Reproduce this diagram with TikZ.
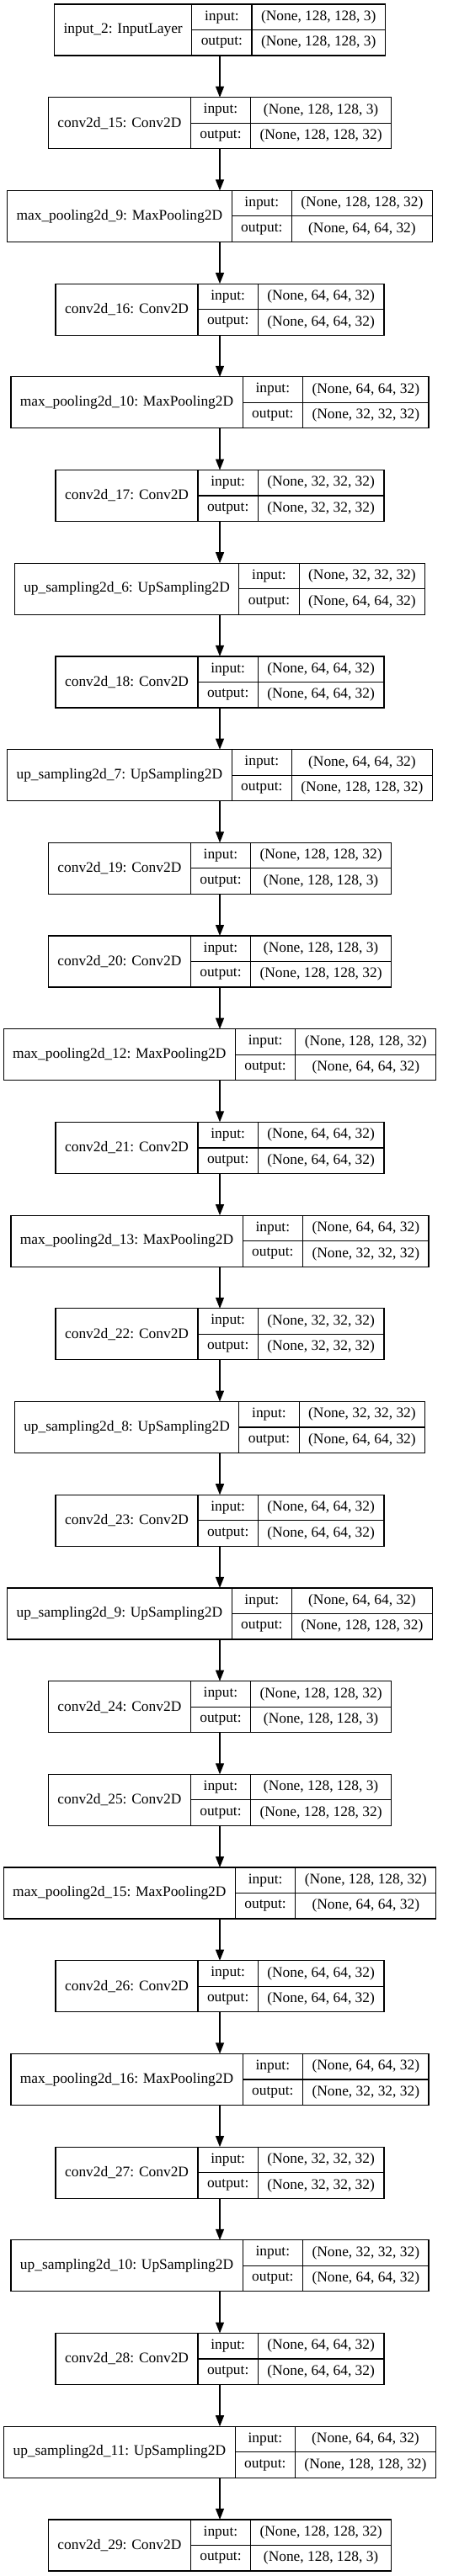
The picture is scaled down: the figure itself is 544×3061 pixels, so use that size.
\documentclass[tikz,border=0pt]{standalone}
\usepackage{fontspec}
\setmainfont{Liberation Serif}
\usetikzlibrary{arrows.meta}

\newcommand\layerfont{\fontsize{17.4}{20}\selectfont}
\newlength\namew
\newlength\valw
\newlength\labw
\newlength\tmpw

% one layer box: row, name, input shape, output shape
\newcommand\layer[4]{%
  \pgfinterruptpicture
    \settowidth\namew{\layerfont #2}\global\namew=\namew
    \settowidth\valw{\layerfont #3}\settowidth\tmpw{\layerfont #4}%
    \ifdim\tmpw>\valw \valw=\tmpw \fi \global\valw=\valw
    \settowidth\labw{\layerfont output:}\global\labw=\labw
  \endpgfinterruptpicture
  \addtolength\namew{22pt}\addtolength\valw{22pt}\addtolength\labw{22pt}%
  \pgfmathsetmacro\boxtop{5+(#1-1)*110.7}%
  \pgfmathsetmacro\boxw{\namew+\labw+\valw}%
  \node[frame, minimum width=\boxw pt] (l#1) at (261, \boxtop+30.5) {};
  \node[field, minimum width=\namew, minimum height=61pt, anchor=north west] (l#1n) at (l#1.north west) {#2};
  \node[field, minimum width=\labw, anchor=north west] (l#1il) at (l#1n.north east) {input:};
  \node[field, minimum width=\valw, anchor=north west] (l#1iv) at (l#1il.north east) {#3};
  \node[field, minimum width=\labw, anchor=north west] (l#1ol) at (l#1il.south west) {output:};
  \node[field, minimum width=\valw, anchor=north west] (l#1ov) at (l#1ol.north east) {#4};
}

\begin{document}
\begin{tikzpicture}[x=1pt, y=-1pt,
  frame/.style={inner sep=0pt, outer sep=0pt, minimum height=61pt},
  field/.style={draw, line width=1.2pt, inner sep=0pt, outer sep=0pt, minimum height=30.5pt, font=\layerfont},
  link/.style={line width=1.2pt, -{Triangle[length=13pt, width=10pt]}}]
\useasboundingbox (0,0) rectangle (544,3061);

\layer{1}{input\_2: InputLayer}{(None, 128, 128, 3)}{(None, 128, 128, 3)}
\layer{2}{conv2d\_15: Conv2D}{(None, 128, 128, 3)}{(None, 128, 128, 32)}
\layer{3}{max\_pooling2d\_9: MaxPooling2D}{(None, 128, 128, 32)}{(None, 64, 64, 32)}
\layer{4}{conv2d\_16: Conv2D}{(None, 64, 64, 32)}{(None, 64, 64, 32)}
\layer{5}{max\_pooling2d\_10: MaxPooling2D}{(None, 64, 64, 32)}{(None, 32, 32, 32)}
\layer{6}{conv2d\_17: Conv2D}{(None, 32, 32, 32)}{(None, 32, 32, 32)}
\layer{7}{up\_sampling2d\_6: UpSampling2D}{(None, 32, 32, 32)}{(None, 64, 64, 32)}
\layer{8}{conv2d\_18: Conv2D}{(None, 64, 64, 32)}{(None, 64, 64, 32)}
\layer{9}{up\_sampling2d\_7: UpSampling2D}{(None, 64, 64, 32)}{(None, 128, 128, 32)}
\layer{10}{conv2d\_19: Conv2D}{(None, 128, 128, 32)}{(None, 128, 128, 3)}
\layer{11}{conv2d\_20: Conv2D}{(None, 128, 128, 3)}{(None, 128, 128, 32)}
\layer{12}{max\_pooling2d\_12: MaxPooling2D}{(None, 128, 128, 32)}{(None, 64, 64, 32)}
\layer{13}{conv2d\_21: Conv2D}{(None, 64, 64, 32)}{(None, 64, 64, 32)}
\layer{14}{max\_pooling2d\_13: MaxPooling2D}{(None, 64, 64, 32)}{(None, 32, 32, 32)}
\layer{15}{conv2d\_22: Conv2D}{(None, 32, 32, 32)}{(None, 32, 32, 32)}
\layer{16}{up\_sampling2d\_8: UpSampling2D}{(None, 32, 32, 32)}{(None, 64, 64, 32)}
\layer{17}{conv2d\_23: Conv2D}{(None, 64, 64, 32)}{(None, 64, 64, 32)}
\layer{18}{up\_sampling2d\_9: UpSampling2D}{(None, 64, 64, 32)}{(None, 128, 128, 32)}
\layer{19}{conv2d\_24: Conv2D}{(None, 128, 128, 32)}{(None, 128, 128, 3)}
\layer{20}{conv2d\_25: Conv2D}{(None, 128, 128, 3)}{(None, 128, 128, 32)}
\layer{21}{max\_pooling2d\_15: MaxPooling2D}{(None, 128, 128, 32)}{(None, 64, 64, 32)}
\layer{22}{conv2d\_26: Conv2D}{(None, 64, 64, 32)}{(None, 64, 64, 32)}
\layer{23}{max\_pooling2d\_16: MaxPooling2D}{(None, 64, 64, 32)}{(None, 32, 32, 32)}
\layer{24}{conv2d\_27: Conv2D}{(None, 32, 32, 32)}{(None, 32, 32, 32)}
\layer{25}{up\_sampling2d\_10: UpSampling2D}{(None, 32, 32, 32)}{(None, 64, 64, 32)}
\layer{26}{conv2d\_28: Conv2D}{(None, 64, 64, 32)}{(None, 64, 64, 32)}
\layer{27}{up\_sampling2d\_11: UpSampling2D}{(None, 64, 64, 32)}{(None, 128, 128, 32)}
\layer{28}{conv2d\_29: Conv2D}{(None, 128, 128, 32)}{(None, 128, 128, 3)}

% arrows between the layers
\foreach \i in {1,...,27} {
  \pgfmathtruncatemacro\j{\i+1}
  \draw[link] (l\i.south) -- (l\j.north);
}
\end{tikzpicture}
\end{document}
